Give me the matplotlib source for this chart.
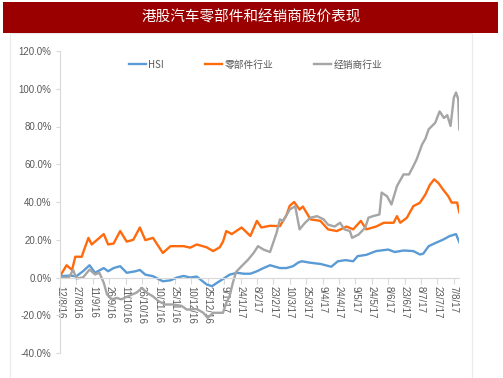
import matplotlib
matplotlib.use("Agg")
import matplotlib.pyplot as plt
from matplotlib.patches import Rectangle

plt.rcParams['font.family'] = ['Noto Sans CJK SC', 'DejaVu Sans']

title = "港股汽车零部件和经销商股价表现"
series_names = ["HSI", "零部件行业", "经销商行业"]

# x = days since 12/8/2016
tick_days = list(range(0, 361, 15))
tick_labels = ["12/8/16", "27/8/16", "11/9/16", "26/9/16", "11/10/16", "26/10/16",
               "10/11/16", "25/11/16", "10/12/16", "25/12/16", "9/1/17", "24/1/17",
               "8/2/17", "23/2/17", "10/3/17", "25/3/17", "9/4/17", "24/4/17",
               "9/5/17", "24/5/17", "8/6/17", "23/6/17", "8/7/17", "23/7/17", "7/8/17"]
y_ticks = [-40, -20, 0, 20, 40, 60, 80, 100, 120]

hsi_days = [0, 9, 15, 21, 27, 32, 40, 44, 49, 55, 61, 69, 73, 78, 85, 94, 101, 107,
            113, 119, 125, 134, 139, 143, 149, 155, 162, 168, 174, 180, 186, 192,
            201, 207, 213, 218, 221, 229, 238, 248, 254, 261, 268, 272, 280, 289,
            300, 306, 314, 323, 329, 332, 337, 344, 350, 356, 362, 365]
hsi_vals = [0.7, 1, 0.7, 3.3, 6.5, 2.5, 5, 3.3, 5, 6, 2.5, 3.3, 4, 1.5, 0.7, -2, -1.5, 0,
            0.8, 0, 0.5, -3.7, -4.6, -3, -0.8, 1.5, 2.5, 2, 2, 3.3, 5, 6.5,
            5, 5, 6, 8, 8.6, 7.8, 7.2, 5.7, 8.6, 9.2, 8.6, 11.3, 12, 14,
            14.8, 13.5, 14.3, 14, 12.2, 12.6, 16.6, 18.5, 20, 21.9, 23, 18.7]

parts_days = [0, 6, 11, 14, 20, 21, 26, 29, 32, 40, 44, 49, 55, 61, 67, 73, 78, 85,
              94, 101, 113, 119, 125, 134, 140, 146, 149, 152, 157, 166, 174, 180,
              184, 192, 201, 207, 210, 214, 219, 222, 229, 238, 245, 253, 262, 268,
              275, 280, 289, 296, 305, 308, 311, 317, 323, 329, 334, 338, 342, 346,
              350, 355, 358, 363, 365]
parts_vals = [0.7, 6.5, 4, 11, 11, 13, 21, 17.5, 19, 23, 17.5, 18, 24.6, 19, 20, 26.5, 19.8, 21,
              13, 16.6, 16.6, 15.8, 17.5, 16, 14, 16, 19, 24.6, 23, 26.5, 22, 30,
              26.5, 27.4, 27.2, 33, 38, 40, 36, 37.6, 30.8, 30, 25.5, 24.6, 27, 25.5,
              30, 25.5, 27, 29, 29, 32.5, 29, 31.6, 37.8, 39.6, 44, 49, 52, 50,
              46.7, 43, 39.7, 39.7, 34.5]

dealer_days = [0, 8, 12, 15, 21, 27, 32, 36, 40, 43, 47, 52, 56, 62, 70, 75, 79, 85,
               90, 96, 103, 111, 116, 125, 131, 135, 140, 149, 152, 155, 158, 161,
               166, 172, 177, 181, 186, 192, 198, 201, 204, 210, 215, 219, 224, 229,
               235, 241, 245, 251, 256, 260, 265, 267, 273, 279, 282, 286, 292, 294,
               299, 303, 308, 314, 319, 323, 326, 331, 334, 337, 343, 347, 351, 354,
               357, 360, 362, 364, 365]
dealer_vals = [0, 0, 4, -0.5, 0, 4.2, 1.6, 2.5, -2.8, -9, -11.6, -10.8, -11.6, -10, -8, -5.5, -8, -10,
               -12.5, -14.3, -14.3, -15, -17, -16.7, -18.7, -21.4, -18.7, -18.7, -13.4, -10, -2.8, 3,
               6, 9.5, 13, 16.6, 14.8, 13.5, 23.7, 30.8, 30, 36, 37.8, 25.5, 29, 31.7,
               32.5, 30.8, 28, 27, 29, 25.5, 24.6, 21, 22.8, 26.4, 31.7, 32.5, 33.4, 45,
               43, 38.7, 48.4, 54.6, 54.6, 59, 62.6, 70.5, 73.5, 78.5, 82, 88, 84.5, 86,
               80.3, 95.3, 98, 94.5, 78.5]

colors = ["#5B9BD5", "#FF6A0D", "#A5A5A5"]
label_color = "#595959"
axis_color = "#D9D9D9"

W, H = 503, 378
fig = plt.figure(figsize=(W / 100, H / 100), dpi=100)
fig.patch.set_facecolor("white")

# chart-area frame (faint) and title bar, drawn behind the axes
bg = fig.add_axes([0, 0, 1, 1], zorder=-5)
bg.set_xlim(0, W)
bg.set_ylim(H, 0)
bg.axis("off")
bg.add_patch(Rectangle((10, 33), 462, 350, facecolor="white", edgecolor="#EBEBEB", linewidth=0.8))
bg.add_patch(Rectangle((3, 2), 495, 31, facecolor="#9B0000", edgecolor="none"))
bg.text(251, 17.5, title, color="white", fontsize=10.5, ha="center", va="center")

ax = fig.add_axes([60 / W, 1 - 353 / H, 399.3 / W, 302 / H], zorder=2)
ax.set_facecolor("none")
for s in ["top", "right"]:
    ax.spines[s].set_visible(False)
ax.spines["left"].set_color(axis_color)
ax.spines["bottom"].set_color(axis_color)
ax.spines["bottom"].set_position(("data", 0))

lw = 1.7
for d, v, c, n in [(hsi_days, hsi_vals, colors[0], series_names[0]),
                   (parts_days, parts_vals, colors[1], series_names[1]),
                   (dealer_days, dealer_vals, colors[2], series_names[2])]:
    ax.plot(d, v, color=c, lw=lw, label=n, solid_joinstyle="round")

ax.set_xlim(0, 365)
ax.set_ylim(-40, 120)
ax.tick_params(axis="y", length=3, color=axis_color, pad=3)
ax.tick_params(axis="x", length=4, color=axis_color, pad=2)
ax.set_yticks(y_ticks)
ax.set_yticklabels([f"{t:.1f}%" for t in y_ticks], fontsize=7, color=label_color,
                   family=["Liberation Sans", "DejaVu Sans"])
ax.set_xticks(tick_days)
ax.set_xticklabels(tick_labels, fontsize=7, color=label_color,
                   family=["Liberation Sans", "DejaVu Sans"],
                   rotation=270, rotation_mode="anchor", ha="left", va="center")

ax.legend(loc="upper center", bbox_to_anchor=(0.49, 1.0), ncol=3, frameon=False,
          fontsize=7, handlelength=1.7, handletextpad=0.3, columnspacing=4.2,
          labelcolor=label_color)

fig.savefig("out.png", dpi=100)
